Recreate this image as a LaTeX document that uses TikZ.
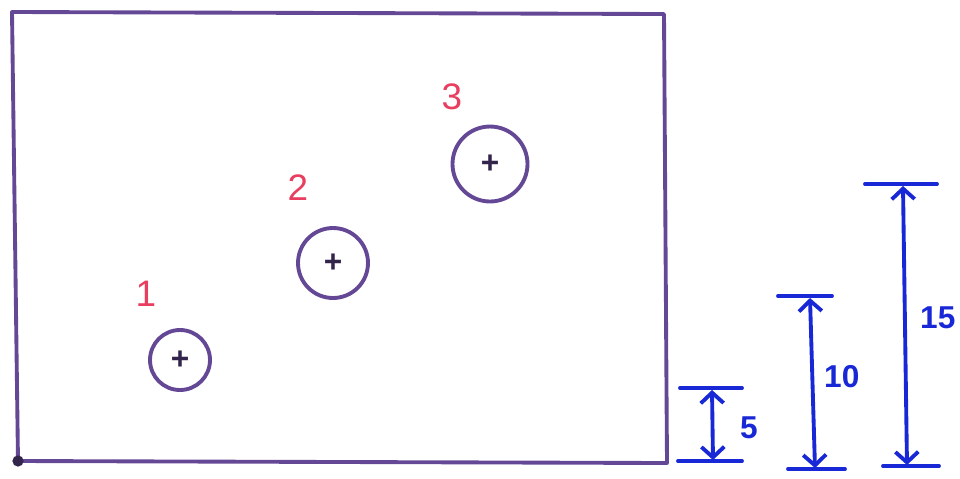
\documentclass[tikz,border=0pt]{standalone}
\usepackage{fontspec}
\setmainfont{Liberation Sans}
\usetikzlibrary{arrows.meta}
\definecolor{pen}{RGB}{100,72,150}
\definecolor{ink}{RGB}{25,40,215}
\definecolor{mark}{RGB}{232,62,95}
\tikzset{
  hole/.style={circle, draw=pen, line width=2.2pt, inner sep=0pt, text=pen!50!black, font=\bfseries\fontsize{18}{18}\selectfont},
  num/.style={text=mark, font=\fontsize{21}{24}\selectfont},
  dim/.style={ink, line width=2.2pt, {Straight Barb[length=6pt,width=13pt]}-{Straight Barb[length=6pt,width=13pt]}},
  bar/.style={ink, line width=2.2pt, line cap=round},
  dimlabel/.style={text=ink, font=\bfseries\fontsize{18}{20}\selectfont, anchor=west}
}
\begin{document}
\begin{tikzpicture}[x=0.02cm,y=-0.02cm]
  \useasboundingbox (0,0) rectangle (960,478);
  % plate
  \draw[pen, line width=2.2pt, line join=round] (12,12)--(664,14)--(667,463)--(18,461)--cycle;
  \fill[pen!50!black] (18,461) circle (3.2pt);
  % holes
  \node[hole, minimum size=1.2cm] (h1) at (180,360) {+};
  \node[hole, minimum size=1.4cm] (h2) at (333,263) {+};
  \node[hole, minimum size=1.5cm] (h3) at (490,164) {+};
  \node[num] (n1) at (146,294) {1};
  \node[num] (n2) at (298,188) {2};
  \node[num] (n3) at (452,97) {3};
  % heights
  \coordinate (a1) at (712,390);
  \coordinate (a2) at (713,460);
  \coordinate (b1) at (810,298);
  \coordinate (b2) at (815,468);
  \coordinate (c1) at (903,186);
  \coordinate (c2) at (907,465);
  \draw[bar] (680,388)--(742,388);
  \draw[bar] (678,461)--(742,461);
  \draw[bar] (778,296)--(832,296);
  \draw[bar] (788,469)--(845,469);
  \draw[bar] (865,184)--(937,184);
  \draw[bar] (883,466)--(939,466);
  \draw[dim] (a1)--(a2);
  \draw[dim] (b1)--(b2);
  \draw[dim] (c1)--(c2);
  \node[dimlabel] (l1) at (734,428) {5};
  \node[dimlabel] (l2) at (818,377) {10};
  \node[dimlabel] (l3) at (914,318) {15};
\end{tikzpicture}
\end{document}
